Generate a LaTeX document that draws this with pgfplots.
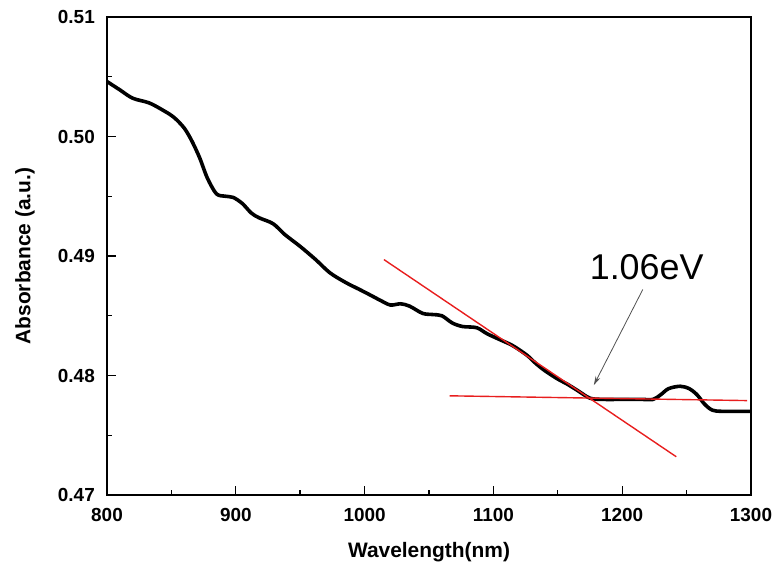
\documentclass[border=0pt]{standalone}
\usepackage{fontspec}
\setmainfont{Liberation Sans}
\usepackage{pgfplots}
\pgfplotsset{compat=1.18}
\usetikzlibrary{arrows.meta}
\definecolor{redline}{RGB}{232,30,30}
\definecolor{arrowgray}{RGB}{80,80,80}
\begin{document}
\begin{tikzpicture}
\useasboundingbox (-107bp,-72bp) rectangle (670bp,495bp);
\begin{axis}[
  at={(0,0)}, anchor=south west,
  scale only axis, width=644bp, height=478bp,
  xmin=800, xmax=1300, ymin=0.47, ymax=0.51,
  xtick={800,900,...,1300},
  ytick={0.47,0.48,0.49,0.50,0.51},
  minor x tick num=1, minor y tick num=1,
  xtick pos=bottom, ytick pos=left,
  tick align=inside,
  major tick length=9bp, minor tick length=5bp,
  every tick/.style={line width=1.4bp, black},
  axis line style={line width=2.2bp},
  /pgf/number format/assume math mode=true,
  yticklabel style={/pgf/number format/fixed, /pgf/number format/fixed zerofill, /pgf/number format/precision=2,
     font=\fontsize{19}{19}\selectfont\bfseries, inner sep=0pt, anchor=east, xshift=-12bp},
  xticklabel style={/pgf/number format/fixed, /pgf/number format/1000 sep={},
     font=\fontsize{19}{19}\selectfont\bfseries, inner sep=0pt, anchor=north, yshift=-13bp},
  xlabel={Wavelength(nm)},
  ylabel={Absorbance (a.u.)},
  xlabel style={font=\fontsize{21}{21}\selectfont\bfseries, at={(axis description cs:0.5,-0.1192)}, anchor=center},
  ylabel style={font=\fontsize{21}{21}\selectfont\bfseries, at={(axis description cs:-0.1273,0.5)}, anchor=center},
  clip=false,
]
\addplot[black, line width=3.6bp, smooth, tension=0.5] coordinates {
(800,0.5046) (810,0.5039) (820,0.5032) (833,0.5028) (845,0.5021) (852,0.5016)
(860,0.5007) (866,0.4996) (872,0.4982) (878,0.4965) (885,0.4952) (892,0.4950)
(898,0.4949) (905,0.4944) (912,0.4936) (918,0.4932) (929,0.4927) (938,0.4918)
(950,0.4908) (962,0.4897) (973,0.4886) (985,0.4878) (996,0.4872) (1005,0.4867)
(1012,0.4863) (1020,0.4859) (1028,0.4860) (1035,0.4858) (1045,0.4852) (1053,0.4851)
(1060,0.4850) (1068,0.4844) (1076,0.4841) (1087,0.4840) (1095,0.4835) (1105,0.4830)
(1115,0.4825) (1126,0.4817) (1133,0.4810) (1140,0.4804) (1150,0.4797) (1157,0.4793)
(1166,0.4787) (1175,0.4781) (1185,0.4780) (1200,0.4780) (1215,0.4780) (1224,0.4780)
(1230,0.4784) (1236,0.4789) (1245,0.4791) (1252,0.4789) (1258,0.4784) (1264,0.4776)
(1270,0.4771) (1278,0.4770) (1300,0.4770)
};
\addplot[redline, line width=1.4bp] coordinates {(1015,0.4897) (1242,0.4732)};
\addplot[redline, line width=1.4bp] coordinates {(1066,0.4783) (1297,0.4779)};
\draw[arrowgray, line width=0.8bp, -{Stealth[length=9bp,width=5bp]}] (axis cs:1216,0.4872) -- (axis cs:1178,0.4792);
\node[font=\fontsize{36}{36}\selectfont, inner sep=0pt] at (axis cs:1219,0.4891) {1.06eV};
\end{axis}
\end{tikzpicture}
\end{document}
